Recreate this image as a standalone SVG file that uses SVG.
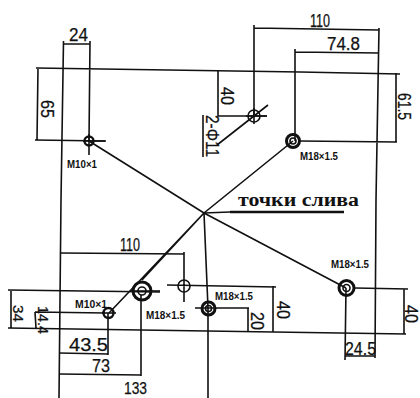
<svg xmlns="http://www.w3.org/2000/svg" width="420" height="398" viewBox="0 0 420 398">
<style>
.l{fill:none;stroke:#111;stroke-width:1.6}
.h{fill:none;stroke:#111;stroke-width:2.4}
.h2{fill:none;stroke:#111;stroke-width:3}
.t{font-family:"Liberation Sans",Arial,sans-serif;font-size:18px;fill:#111;stroke:#111;stroke-width:.25}
.s{font-size:15px}
.b{font-size:16px}
.m{font-family:"Liberation Sans",Arial,sans-serif;font-size:10px;font-weight:bold;fill:#111}
.r{font-family:"Liberation Serif","Times New Roman",serif;font-size:18px;font-weight:bold;fill:#111}
</style>
<rect width="420" height="398" fill="#fff"/>
<g id="connectors">
<path class="l" d="M63.5 41L61 200L59 398"/>
<path class="l" d="M63 44L90 44M90 41L89 141M36 68L300 72L400 74M38 68L37 140M35 140L105 141"/>
<path class="l" d="M89 141L204 213L346 288"/>
<path class="l" d="M254 25L254 116M254 28L379 30M295 49L295 141M295 52L379 53M379 28L376 200L375 358M300 141L397 142M396 73L396 142"/>
<path class="l" d="M218 71L218 116L267 116M203 115L203 157M268 105L217 145"/>
<path class="l" d="M293 141L204 213L142 280M204 213L109 313M204 213L208 308L208 398"/>
<path class="l" d="M204 213L230 212"/><path class="h" d="M230 212L344 212"/>
<path class="l" d="M61 253L184 254M184 252L184 302M167 285L276 287M273 286L273 332"/>
<path class="l" d="M8 290L160 292M11 290L11 328M8 328L207 331L406 334M35 312L105 313M35 312L36 328"/>
<path class="l" d="M59 353L108 354M108 313L108 355M59 374L141 375M141 295L141 376"/>
<path class="l" d="M195 308L249 308M248 308L248 331"/>
<path class="l" d="M346 288L345 360M355 288L408 289M404 289L404 334M345 356L375 356"/>
</g>
<g id="hole-m10-top"><circle class="h" cx="89" cy="141" r="4.5"/><path class="l" d="M83 141H106M89 134V155"/><text class="m" x="67" y="168" textLength="30" lengthAdjust="spacingAndGlyphs">M10×1</text></g>
<g id="hole-m18-top"><circle class="h2" cx="293" cy="141" r="6.5"/><circle class="l" cx="293" cy="141" r="3"/><text class="m" x="300" y="160" textLength="38" lengthAdjust="spacingAndGlyphs">M18×1.5</text></g>
<g id="hole-phi11-top"><circle class="l" cx="254" cy="116" r="6"/><path class="l" d="M246 116H267M254 108V124"/></g>
<g id="hole-m10-bottom"><circle class="h" cx="108.500" cy="313" r="5"/><path class="l" d="M102 313H116"/><text class="m" x="75" y="308" textLength="32" lengthAdjust="spacingAndGlyphs">M10×1</text></g>
<g id="hole-m18-left"><circle class="h2" cx="142" cy="291" r="9"/><circle class="l" cx="142" cy="291" r="4"/><path class="l" d="M131 291H160"/><text class="m" x="146" y="319" textLength="39" lengthAdjust="spacingAndGlyphs">M18×1.5</text></g>
<g id="hole-phi-mid"><circle class="l" cx="184" cy="286" r="6"/></g>
<g id="hole-m18-mid"><circle class="h2" cx="208.500" cy="308.500" r="6.500"/><circle class="l" cx="208.500" cy="308.500" r="3"/><text class="m" x="215" y="300" textLength="38" lengthAdjust="spacingAndGlyphs">M18×1.5</text></g>
<g id="hole-m18-right"><circle class="h2" cx="346.500" cy="288" r="7.500"/><circle class="l" cx="346.500" cy="288" r="3.500"/><text class="m" x="331" y="268" textLength="38" lengthAdjust="spacingAndGlyphs">M18×1.5</text></g>
<g id="labels">
<text class="r" x="238" y="206" textLength="121" lengthAdjust="spacingAndGlyphs">точки слива</text>
<text class="t" x="69" y="41" textLength="19" lengthAdjust="spacingAndGlyphs">24</text>
<text class="t" x="310" y="27" textLength="20" lengthAdjust="spacingAndGlyphs">110</text>
<text class="t" x="327" y="50" textLength="33" lengthAdjust="spacingAndGlyphs">74.8</text>
<text class="t" x="120" y="251" textLength="20" lengthAdjust="spacingAndGlyphs">110</text>
<text class="t" x="69" y="351" textLength="39" lengthAdjust="spacingAndGlyphs">43.5</text>
<text class="t" x="92" y="372" textLength="18" lengthAdjust="spacingAndGlyphs">73</text>
<text class="t b" x="124" y="394" textLength="23" lengthAdjust="spacingAndGlyphs">133</text>
<text class="t" x="345" y="355" textLength="31" lengthAdjust="spacingAndGlyphs">24.5</text>
<text class="t" transform="translate(41,100) rotate(90)" textLength="18" lengthAdjust="spacingAndGlyphs">65</text>
<text class="t" transform="translate(221,87) rotate(90)" textLength="18" lengthAdjust="spacingAndGlyphs">40</text>
<text class="t" transform="translate(398,93) rotate(90)" textLength="27" lengthAdjust="spacingAndGlyphs">61.5</text>
<text class="t" transform="translate(206,115) rotate(90)" textLength="42" lengthAdjust="spacingAndGlyphs">2-Φ11</text>
<text class="t s" transform="translate(13,305) rotate(90)" textLength="17" lengthAdjust="spacingAndGlyphs">34</text>
<text class="t s" transform="translate(38,306) rotate(90)" textLength="28" lengthAdjust="spacingAndGlyphs">14.4</text>
<text class="t" transform="translate(251,312) rotate(90)" textLength="18" lengthAdjust="spacingAndGlyphs">20</text>
<text class="t" transform="translate(277,301) rotate(90)" textLength="18" lengthAdjust="spacingAndGlyphs">40</text>
<text class="t" transform="translate(405,305) rotate(90)" textLength="18" lengthAdjust="spacingAndGlyphs">40</text>
</g>
</svg>
